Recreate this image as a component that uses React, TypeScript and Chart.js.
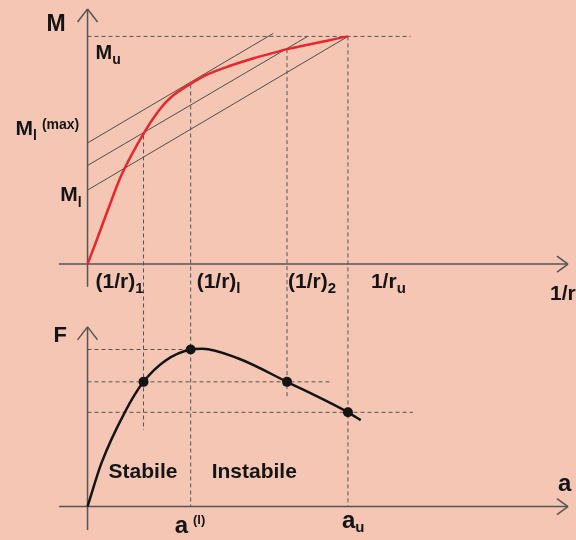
import { useEffect, useRef } from "react";
import { Chart, registerables } from "chart.js";

Chart.register(...registerables);

// ---------- Top diagram: moment M vs curvature 1/r (units: 1/r_u = 1, M_u = 1) ----------
const curvature = [0, 0.035, 0.086, 0.133, 0.211, 0.274, 0.325, 0.392, 0.463, 0.551, 0.638, 0.732, 0.766, 1.0];
const moment = [0, 0.105, 0.262, 0.398, 0.565, 0.675, 0.737, 0.789, 0.834, 0.872, 0.904, 0.933, 0.944, 1.0];

// (1/r)1, (1/r)l, (1/r)2, 1/ru
const curvatureMarks = [0.215, 0.396, 0.766, 1.0];
const momentAtMarks = [0.565, 0.789, 0.944, 1.0];
const curvatureLabels = [
  ["(1/r)", "1"],
  ["(1/r)", "l"],
  ["(1/r)", "2"],
  ["1/r", "u"],
];
const Mu = 1.0;
const MuLineEnd = 1.24;
const MlMaxLevel = 0.565;
const MlLevel = 0.276;

// parallel secant / tangent lines
const secantStartX = [0, 0, 0];
const secantStartM = [0.532, 0.433, 0.325];
const secantEndX = [0.713, 0.845, 1.0];
const secantEndM = [1.013, 1.0, 1.0];

// ---------- Bottom diagram: force F vs displacement a (units: a_u = 1, F_max = 1) ----------
const displacement = [0, 0.053, 0.143, 0.215, 0.3, 0.396, 0.44, 0.577, 0.766, 1.0, 1.049];
const force = [0, 0.275, 0.6, 0.794, 0.93, 1.0, 1.005, 0.944, 0.794, 0.6, 0.55];
const forceAtMarks = [0.794, 1.0, 0.794, 0.6];
const forceLevels = [1.0, 0.794, 0.6];
const forceLevelEnds = [0.396, 0.94, 1.25];
const verticalBottomF = [0.4875, 0, 0.694, 0];

const BG = "#F4C6B3";
const INK = "#141414";
const GRAY = "#555555";
const RED = "#E8262B";
const FONT = '"Liberation Sans", Arial, Helvetica, sans-serif';

type Part = { t: string; size: number; dy?: number; dx?: number };

function rich(ctx: CanvasRenderingContext2D, x: number, y: number, parts: Part[], align: "left" | "right" = "left") {
  let total = 0;
  for (const p of parts) {
    ctx.font = `bold ${p.size}px ${FONT}`;
    total += ctx.measureText(p.t).width + (p.dx || 0);
  }
  let cx = align === "right" ? x - total : x;
  ctx.textAlign = "left";
  ctx.textBaseline = "alphabetic";
  for (const p of parts) {
    ctx.font = `bold ${p.size}px ${FONT}`;
    cx += p.dx || 0;
    ctx.fillText(p.t, cx, y + (p.dy || 0));
    cx += ctx.measureText(p.t).width;
  }
}

const pts = (xs: number[], ys: number[]) => xs.map((x, i) => ({ x, y: ys[i] }));

const diagramPlugin = {
  id: "diagram",
  beforeDraw(chart: any) {
    const { ctx, width, height } = chart;
    ctx.save();
    ctx.fillStyle = BG;
    ctx.fillRect(0, 0, width, height);
    ctx.restore();
  },
  beforeDatasetsDraw(chart: any) {
    const ctx: CanvasRenderingContext2D = chart.ctx;
    const X = chart.scales.x;
    const T = chart.scales.yTop;
    const B = chart.scales.yBot;
    ctx.save();
    ctx.strokeStyle = GRAY;
    ctx.lineWidth = 1.5;
    const line = (x1: number, y1: number, x2: number, y2: number) => {
      ctx.beginPath();
      ctx.moveTo(x1, y1);
      ctx.lineTo(x2, y2);
      ctx.stroke();
    };
    const ox = X.getPixelForValue(0);
    const xl = X.getPixelForValue(-0.11);
    const xr = X.getPixelForValue(1.845);
    // top axes
    const t0 = T.getPixelForValue(0);
    const tTop = T.getPixelForValue(1.12);
    line(ox, T.getPixelForValue(-0.1), ox, tTop);
    line(ox - 10, tTop + 13, ox, tTop);
    line(ox, tTop, ox + 10, tTop + 13);
    line(xl, t0, xr, t0);
    line(xr - 11, t0 - 8, xr, t0);
    line(xr, t0, xr - 11, t0 + 8);
    // bottom axes
    const b0 = B.getPixelForValue(0);
    const bTop = B.getPixelForValue(1.144);
    line(ox, B.getPixelForValue(-0.15), ox, bTop);
    line(ox - 10, bTop + 13, ox, bTop);
    line(ox, bTop, ox + 10, bTop + 13);
    line(xl, b0, xr, b0);
    line(xr - 11, b0 - 8, xr, b0);
    line(xr, b0, xr - 11, b0 + 8);
    // vertical dashed links between the two diagrams
    ctx.lineWidth = 1;
    ctx.setLineDash([4, 3]);
    for (let i = 0; i < curvatureMarks.length; i++) {
      const x = X.getPixelForValue(curvatureMarks[i]);
      line(x, T.getPixelForValue(momentAtMarks[i]), x, B.getPixelForValue(verticalBottomF[i]));
    }
    ctx.restore();
  },
  afterDatasetsDraw(chart: any) {
    const ctx: CanvasRenderingContext2D = chart.ctx;
    const X = chart.scales.x;
    const T = chart.scales.yTop;
    const B = chart.scales.yBot;
    ctx.save();
    ctx.fillStyle = INK;
    const ox = X.getPixelForValue(0);
    const t0 = T.getPixelForValue(0);
    const b0 = B.getPixelForValue(0);
    // top labels
    rich(ctx, ox - 41, T.getPixelForValue(Mu) - 5, [{ t: "M", size: 23 }]);
    rich(ctx, ox + 8, T.getPixelForValue(Mu) + 23, [
      { t: "M", size: 20 },
      { t: "u", size: 14, dy: 5 },
    ]);
    rich(ctx, ox - 72, T.getPixelForValue(MlMaxLevel), [
      { t: "M", size: 21 },
      { t: "l", size: 14, dy: 5 },
      { t: "(max)", size: 14, dy: -6, dx: 5 },
    ]);
    rich(ctx, ox - 6, T.getPixelForValue(MlLevel), [
      { t: "M", size: 21 },
      { t: "l", size: 14, dy: 6 },
    ], "right");
    const tickOffsets = [-48, 6, 1, 23];
    for (let i = 0; i < curvatureLabels.length; i++) {
      const x = X.getPixelForValue(curvatureMarks[i]) + tickOffsets[i];
      rich(ctx, x, t0 + 24, [
        { t: curvatureLabels[i][0], size: 21 },
        { t: curvatureLabels[i][1], size: 15, dy: 5 },
      ]);
    }
    rich(ctx, 550, t0 + 36, [{ t: "1/r", size: 21 }]);
    // bottom labels
    rich(ctx, ox - 34, B.getPixelForValue(1) - 8, [{ t: "F", size: 22 }]);
    rich(ctx, 558, b0 - 16, [{ t: "a", size: 24 }]);
    rich(ctx, X.getPixelForValue(curvatureMarks[1]) - 16, b0 + 26, [
      { t: "a", size: 24 },
      { t: "(l)", size: 13, dy: -9, dx: 5 },
    ]);
    rich(ctx, X.getPixelForValue(curvatureMarks[3]) - 6, b0 + 21, [
      { t: "a", size: 24 },
      { t: "u", size: 15, dy: 4 },
    ]);
    rich(ctx, ox + 21, b0 - 29, [{ t: "Stabile", size: 21 }]);
    rich(ctx, X.getPixelForValue(curvatureMarks[1]) + 21, b0 - 29, [{ t: "Instabile", size: 21 }]);
    ctx.restore();
  },
};

export default function App() {
  const ref = useRef<HTMLCanvasElement | null>(null);
  useEffect(() => {
    if (!ref.current) return;
    const lineDs = (data: any[], axis: string, color: string, width: number, order: number, dash: number[] = []) => ({
      data,
      yAxisID: axis,
      borderColor: color,
      backgroundColor: color,
      borderWidth: width,
      borderDash: dash,
      pointRadius: 0,
      showLine: true,
      fill: false,
      order,
    });
    const datasets: any[] = [];
    datasets.push({
      ...lineDs(pts(curvature, moment), "yTop", RED, 2.5, 1),
      tension: 0.35,
    });
    for (let i = 0; i < secantStartX.length; i++) {
      datasets.push(
        lineDs(
          [
            { x: secantStartX[i], y: secantStartM[i] },
            { x: secantEndX[i], y: secantEndM[i] },
          ],
          "yTop",
          "#4f4f4f",
          1,
          2
        )
      );
    }
    datasets.push(lineDs([{ x: 0, y: Mu }, { x: MuLineEnd, y: Mu }], "yTop", GRAY, 1, 3, [4, 3]));
    datasets.push({
      ...lineDs(pts(displacement, force), "yBot", INK, 2.5, 1),
      cubicInterpolationMode: "monotone",
    });
    for (let i = 0; i < forceLevels.length; i++) {
      datasets.push(
        lineDs(
          [
            { x: 0, y: forceLevels[i] },
            { x: forceLevelEnds[i], y: forceLevels[i] },
          ],
          "yBot",
          GRAY,
          1,
          3,
          [4, 3]
        )
      );
    }
    datasets.push({
      data: pts(curvatureMarks, forceAtMarks),
      yAxisID: "yBot",
      showLine: false,
      pointRadius: 5,
      pointBackgroundColor: INK,
      pointBorderColor: INK,
      pointBorderWidth: 0,
      order: 0,
    });

    const chart = new Chart(ref.current, {
      type: "scatter",
      data: { datasets },
      options: {
        animation: false,
        responsive: false,
        events: [],
        layout: { padding: 0 },
        plugins: { legend: { display: false }, tooltip: { enabled: false }, title: { display: false } },
        scales: {
          x: { type: "linear", min: -0.31698, max: 1.8566, display: false },
          y: { type: "linear", display: false },
          yTop: { type: "linear", min: -1.1897, max: 1.1379, display: false },
          yBot: { type: "linear", min: -0.18125, max: 3.19375, display: false },
        },
      },
      plugins: [diagramPlugin],
    });
    return () => chart.destroy();
  }, []);
  return (
    <div style={{ position: "fixed", left: 0, top: 0, width: 576, height: 540 }}>
      <canvas ref={ref} width={576} height={540} style={{ display: "block" }} />
    </div>
  );
}
